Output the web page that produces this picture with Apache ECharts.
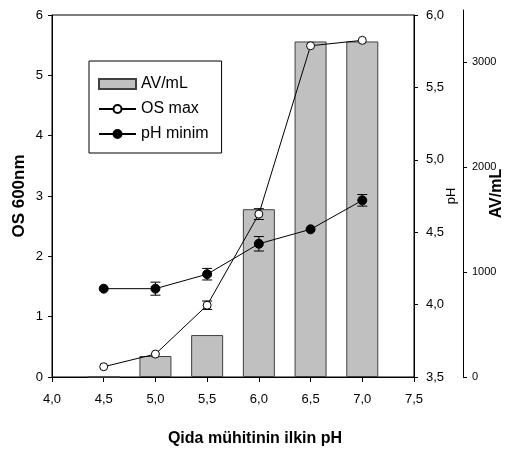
<!DOCTYPE html>
<html>
<head>
<meta charset="utf-8">
<script src="https://cdn.jsdelivr.net/npm/echarts@6/dist/echarts.min.js"></script>
<style>
  html, body { margin: 0; padding: 0; background: #fff; }
  #chart { width: 506px; height: 454px; }
</style>
</head>
<body>
<div id="chart"></div>
<script>
// ilkin pH (x)
var phStart = [4.5, 5.0, 5.5, 6.0, 6.5, 7.0];
// AV/mL (bars)
var avPerMl = [0, 200, 400, 1600, 3200, 3200];
// OS max (OS 600nm) and error
var osMax = [0.17, 0.38, 1.19, 2.70, 5.49, 5.58];
var osMaxErr = [0.01, 0.04, 0.07, 0.09, 0.02, 0.02];
// pH minim and error
var phMin = [4.11, 4.11, 4.21, 4.42, 4.52, 4.72];
var phMinErr = [0.01, 0.045, 0.04, 0.05, 0.01, 0.04];

var FONT = 'Liberation Sans, Arial, sans-serif';

function comma(v) {
    return v.toFixed(1).replace('.', ',');
}
function pairs(xs, ys) {
    return xs.map(function (x, i) { return [x, ys[i]]; });
}
function errData(xs, ys, es) {
    return xs.map(function (x, i) { return [x, ys[i] - es[i], ys[i] + es[i], ys[i]]; });
}
// whisker with caps, kept outside the marker
function errorRenderer(r) {
    return function (params, api) {
        var x = api.value(0);
        var hi = api.coord([x, api.value(2)]);
        var lo = api.coord([x, api.value(1)]);
        var c = api.coord([x, api.value(3)]);
        var w = 5;
        var st = { stroke: '#000', lineWidth: 1 };
        var kids = [];
        if (c[1] - hi[1] > r) {
            kids.push({ type: 'line', shape: { x1: c[0], y1: hi[1], x2: c[0], y2: c[1] - r }, style: st });
            kids.push({ type: 'line', shape: { x1: c[0] - w, y1: hi[1], x2: c[0] + w, y2: hi[1] }, style: st });
        }
        if (lo[1] - c[1] > r) {
            kids.push({ type: 'line', shape: { x1: c[0], y1: c[1] + r, x2: c[0], y2: lo[1] }, style: st });
            kids.push({ type: 'line', shape: { x1: c[0] - w, y1: lo[1], x2: c[0] + w, y2: lo[1] }, style: st });
        }
        return { type: 'group', children: kids };
    };
}

var myChart = echarts.init(document.getElementById('chart'));

var axisLine = { show: true, lineStyle: { color: '#000', width: 1 } };
var axisTick = { show: true, inside: false, length: 4, lineStyle: { color: '#000' } };

option = {
    animation: false,
    textStyle: { fontFamily: FONT },
    grid: [
        { left: 52, right: 92, top: 15, bottom: 77, show: true, borderColor: '#000', borderWidth: 1, outerBoundsMode: 'none', containLabel: false },
        { left: 52, right: 92, top: 10, bottom: 77, outerBoundsMode: 'none', containLabel: false }
    ],
    legend: {
        left: 89,
        top: 61,
        orient: 'vertical',
        borderColor: '#000',
        borderWidth: 1,
        padding: [15, 13, 11, 9],
        itemWidth: 37,
        itemHeight: 10,
        itemGap: 9,
        textStyle: { fontSize: 16, color: '#000', fontFamily: FONT },
        data: [
            { name: 'AV/mL', icon: 'rect' },
            { name: 'OS max' },
            { name: 'pH minim' }
        ]
    },
    xAxis: [
        {
            gridIndex: 0,
            type: 'value',
            min: 4, max: 7.5, interval: 0.5,
            axisLine: axisLine,
            axisTick: { show: true, length: 5, lineStyle: { color: '#000' } },
            splitLine: { show: false },
            axisLabel: { fontSize: 13, color: '#000', margin: 16, formatter: comma },
            name: 'Qida mühitinin ilkin pH',
            nameLocation: 'middle',
            nameGap: 54,
            nameMoveOverlap: false,
            nameTextStyle: { fontSize: 16, fontWeight: 'bold', color: '#000', padding: [0, 0, 0, 44] }
        },
        {
            gridIndex: 1,
            type: 'value',
            min: 4, max: 7.5,
            show: false
        }
    ],
    yAxis: [
        {
            gridIndex: 0,
            type: 'value',
            position: 'left',
            min: 0, max: 6, interval: 1,
            axisLine: axisLine,
            axisTick: axisTick,
            splitLine: { show: false },
            axisLabel: { fontSize: 13, color: '#000', margin: 9 },
            name: 'OS 600nm',
            nameLocation: 'middle',
            nameRotate: 90,
            nameGap: 24,
            nameMoveOverlap: false,
            nameTextStyle: { fontSize: 17, fontWeight: 'bold', color: '#000' }
        },
        {
            gridIndex: 0,
            type: 'value',
            position: 'right',
            min: 3.5, max: 6.0, interval: 0.5,
            axisLine: axisLine,
            axisTick: axisTick,
            splitLine: { show: false },
            axisLabel: { fontSize: 13, color: '#000', margin: 12, formatter: comma },
            name: 'pH',
            nameLocation: 'middle',
            nameRotate: 90,
            nameGap: 31,
            nameMoveOverlap: false,
            nameTextStyle: { fontSize: 13, color: '#000' }
        },
        {
            gridIndex: 1,
            type: 'value',
            position: 'right',
            offset: 49,
            min: 0, max: 3500,
            axisLine: axisLine,
            axisTick: { show: true, length: 4, lineStyle: { color: '#000' }, customValues: [0, 1000, 2000, 3000] },
            splitLine: { show: false },
            axisLabel: {
                fontSize: 11, color: '#000', margin: 9,
                customValues: [0, 1000, 2000, 3000],
                formatter: function (v) { return String(v); }
            },
            name: 'AV/mL',
            nameLocation: 'middle',
            nameRotate: 90,
            nameGap: 26,
            nameMoveOverlap: false,
            nameTextStyle: { fontSize: 16, fontWeight: 'bold', color: '#000' }
        }
    ],
    series: [
        {
            name: 'AV/mL',
            type: 'bar',
            xAxisIndex: 1,
            yAxisIndex: 2,
            barWidth: 32,
            itemStyle: { color: '#c0c0c0', borderColor: '#404040', borderWidth: 1 },
            data: pairs(phStart, avPerMl)
        },
        {
            name: 'OS max',
            type: 'line',
            xAxisIndex: 0,
            yAxisIndex: 0,
            symbol: 'circle',
            symbolSize: 8,
            lineStyle: { color: '#000', width: 1 },
            itemStyle: { color: '#fff', borderColor: '#000', borderWidth: 1 },
            data: pairs(phStart, osMax)
        },
        {
            name: 'pH minim',
            type: 'line',
            xAxisIndex: 0,
            yAxisIndex: 1,
            symbol: 'circle',
            symbolSize: 9,
            lineStyle: { color: '#000', width: 1 },
            itemStyle: { color: '#000', borderColor: '#000', borderWidth: 1 },
            data: pairs(phStart, phMin)
        },
        {
            name: 'OS max err',
            type: 'custom',
            xAxisIndex: 0,
            yAxisIndex: 0,
            z: 5,
            renderItem: errorRenderer(4),
            encode: { x: 0, y: [1, 2] },
            data: errData(phStart, osMax, osMaxErr)
        },
        {
            name: 'pH minim err',
            type: 'custom',
            xAxisIndex: 0,
            yAxisIndex: 1,
            z: 5,
            renderItem: errorRenderer(4.5),
            encode: { x: 0, y: [1, 2] },
            data: errData(phStart, phMin, phMinErr)
        }
    ]
};
myChart.setOption(option);
</script>
</body>
</html>
